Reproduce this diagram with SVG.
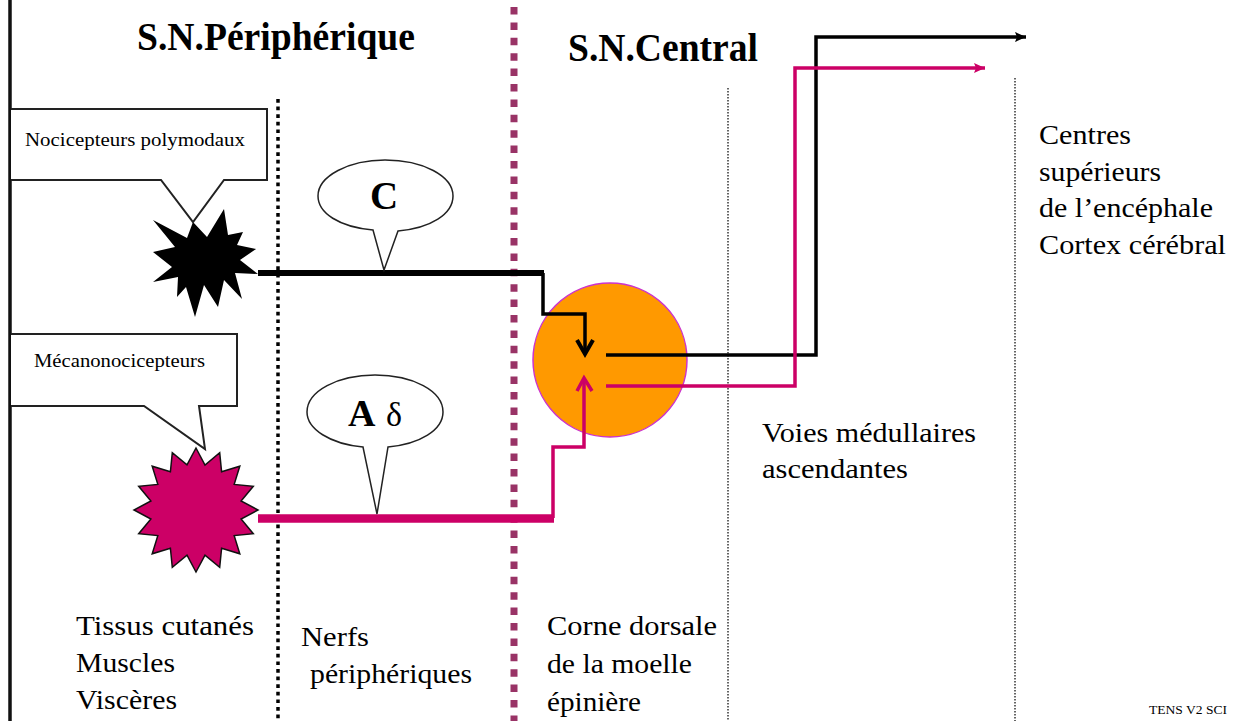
<svg xmlns="http://www.w3.org/2000/svg" width="1239" height="721" viewBox="0 0 1239 721">
<style>
text{font-family:"Liberation Serif","Times New Roman",serif;fill:#000}
.t{font-size:28px}
.h{font-size:39px;font-weight:bold}
.s{font-size:19px}
.c{fill:#fff;stroke:#222;stroke-width:2}
.k{stroke:#000;fill:none}
.m{stroke:#CC0066;fill:none}
</style>
<defs>
<marker id="ak" markerUnits="userSpaceOnUse" markerWidth="12" markerHeight="10" refX="11" refY="5" orient="auto"><path d="M0 0L11 5L0 10L2 5Z" fill="#000"/></marker>
<marker id="am" markerUnits="userSpaceOnUse" markerWidth="12" markerHeight="10" refX="11" refY="5" orient="auto"><path d="M0 0L11 5L0 10L2 5Z" fill="#CC0066"/></marker>
</defs>
<rect width="1239" height="721" fill="#fff"/>
<g id="dividers" fill="none">
<line x1="10" y1="0" x2="10" y2="721" stroke="#111" stroke-width="3.5"/>
<line x1="278" y1="99" x2="278" y2="721" stroke="#000" stroke-width="3.5" stroke-dasharray="3.7 3.9"/>
<line x1="514" y1="7" x2="514" y2="721" stroke="#993366" stroke-width="7" stroke-dasharray="7.5 7.9"/>
<line x1="728" y1="88" x2="728" y2="721" stroke="#333" stroke-width="1.5" stroke-dasharray="1.5 1.5"/>
<line x1="1015" y1="78" x2="1015" y2="721" stroke="#333" stroke-width="1.5" stroke-dasharray="1.5 1.5"/>
</g>
<g id="corne"><circle cx="610" cy="360" r="77" fill="#FF9900" stroke="#CC33CC" stroke-width="1.5"/></g>
<g id="connectors">
<path class="k" stroke-width="3.5" d="M543 273V314H585V354"/>
<path class="k" stroke-width="4" d="M577 340L585 354L593 340"/>
<path class="k" stroke-width="6" d="M258 273H544"/>
<path class="m" stroke-width="3.5" d="M553 518V447H584V378"/>
<path class="m" stroke-width="3.5" d="M577 391L584 378L592 391"/>
<path class="m" stroke-width="8.500" d="M258 518.500H554"/>
<path class="k" stroke-width="3.500" d="M606 355H816V37H1026" marker-end="url(#ak)"/>
<path class="m" stroke-width="3.500" d="M606 386H795V68H985" marker-end="url(#am)"/>
</g>
<g id="star-c"><polygon fill="#000" points="193,222 207,237 224,209 228,235 243,232 237,245 256,249 240,260 258,274 235,273 242,299 224,280 218,307 204,285 195,317 186,287 177,297 178,277 153,282 172,267 153,252 175,247 153,220 187,238"/></g>
<g id="star-a"><polygon fill="#CC0066" stroke="#111" stroke-width="1.500" points="196,448 205,465 219.700,452.700 221.600,471.800 239.800,466.200 234.200,484.400 253.300,486.300 241.100,501 258,510 241.100,519 253.300,533.700 234.200,535.600 239.800,553.800 221.600,548.200 219.700,567.300 205,555.100 196,572 187,555.100 172.300,567.300 170.400,548.200 152.200,553.800 157.800,535.600 138.700,533.700 150.900,519 134,510 150.900,501 138.700,486.300 157.800,484.400 152.200,466.200 170.400,471.800 172.300,452.700 187,464.900"/></g>
<g id="callout-noci"><path class="c" d="M11 109H267V180H224L193 222L161 180H11"/><text class="s" x="25" y="146" textLength="220" lengthAdjust="spacingAndGlyphs">Nocicepteurs polymodaux</text></g>
<g id="callout-meca"><path class="c" d="M11 334H237V406H199L205 449L144 406H11"/><text class="s" x="34" y="367" textLength="171" lengthAdjust="spacingAndGlyphs">Mécanonocicepteurs</text></g>
<g id="bubble-c"><path fill="#fff" stroke="#222" stroke-width="1.500" d="M373 230C339 227 318 213 318 196C318 176 349 160 385 160C423 160 453 176 453 196C453 214 431 228 398 231L384 270Z"/><text x="384" y="209" text-anchor="middle" font-size="39" font-weight="bold">C</text></g>
<g id="bubble-a"><path fill="#fff" stroke="#222" stroke-width="1.500" d="M363 447C330 444 307 429 307 412C307 391 338 375 375 375C413 375 443 391 443 412C443 430 420 444 388 447L377 514Z"/><text x="348" y="426" font-size="38" font-weight="bold">A</text><text x="386" y="426" font-size="34">δ</text></g>
<g id="labels">
<text class="h" x="137" y="50" textLength="278" lengthAdjust="spacingAndGlyphs">S.N.Périphérique</text>
<text class="h" x="568" y="61" textLength="190" lengthAdjust="spacingAndGlyphs">S.N.Central</text>
<text class="t" x="1039" y="144" textLength="92" lengthAdjust="spacingAndGlyphs">Centres</text>
<text class="t" x="1039" y="181" textLength="122" lengthAdjust="spacingAndGlyphs">supérieurs</text>
<text class="t" x="1039" y="217" textLength="174" lengthAdjust="spacingAndGlyphs">de l’encéphale</text>
<text class="t" x="1039" y="254" textLength="187" lengthAdjust="spacingAndGlyphs">Cortex cérébral</text>
<text class="t" x="762" y="442" textLength="214" lengthAdjust="spacingAndGlyphs">Voies médullaires</text>
<text class="t" x="762" y="478" textLength="146" lengthAdjust="spacingAndGlyphs">ascendantes</text>
<text class="t" x="76" y="635" textLength="178" lengthAdjust="spacingAndGlyphs">Tissus cutanés</text>
<text class="t" x="76" y="672" textLength="99" lengthAdjust="spacingAndGlyphs">Muscles</text>
<text class="t" x="76" y="709" textLength="101" lengthAdjust="spacingAndGlyphs">Viscères</text>
<text class="t" x="301" y="646" textLength="68" lengthAdjust="spacingAndGlyphs">Nerfs</text>
<text class="t" x="310" y="683" textLength="162" lengthAdjust="spacingAndGlyphs">périphériques</text>
<text class="t" x="547" y="635" textLength="170" lengthAdjust="spacingAndGlyphs">Corne dorsale</text>
<text class="t" x="547" y="673" textLength="145" lengthAdjust="spacingAndGlyphs">de la moelle</text>
<text class="t" x="547" y="711" textLength="94" lengthAdjust="spacingAndGlyphs">épinière</text>
<text x="1149" y="714" font-size="13" textLength="78" lengthAdjust="spacingAndGlyphs">TENS V2 SCI</text>
</g>
</svg>
